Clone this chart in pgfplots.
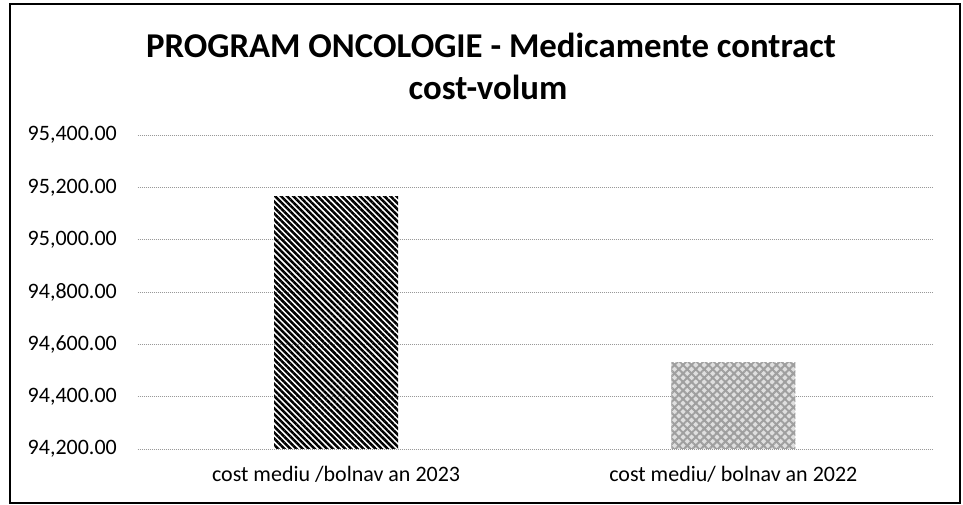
\documentclass[border=0pt]{standalone}
\usepackage{pgfplots}
\pgfplotsset{compat=1.18}
\usepackage{fontspec}
\setmainfont{Carlito}
\usetikzlibrary{patterns.meta}
\begin{document}
\begin{tikzpicture}[x=1pt,y=1pt]
\useasboundingbox (0,0) rectangle (963,505);
\draw[line width=2.5pt] (10,2) rectangle (960,501);
\node[anchor=base, font=\fontsize{34.8}{40}\selectfont\bfseries] at (491,447) {PROGRAM ONCOLOGIE - Medicamente contract};
\node[anchor=base, font=\fontsize{34.8}{40}\selectfont\bfseries] at (488,405) {cost-volum};
\begin{axis}[
  at={(137.5pt,56pt)}, anchor=south west,
  scale only axis, width=794.5pt, height=314pt,
  xmin=-0.5, xmax=1.5, ymin=94200, ymax=95400,
  ytick={94200,94400,94600,94800,95000,95200,95400},
  xtick={0,1},
  xticklabels={cost mediu /bolnav an 2023, cost mediu/ bolnav an 2022},
  axis line style={draw=none},
  major tick length=0pt,
  ymajorgrids,
  major grid style={gray!80, dash pattern=on 1pt off 1pt, line width=0.8pt},
  /pgf/number format/assume math mode=true,
  /pgf/number format/fixed,
  /pgf/number format/fixed zerofill,
  /pgf/number format/precision=2,
  /pgf/number format/1000 sep={,},
  scaled y ticks=false,
  every tick label/.append style={font=\fontsize{22}{26}\selectfont},
  yticklabel style={anchor=east, inner sep=0pt, xshift=-20.5pt},
  xticklabel style={anchor=north, inner sep=0pt, yshift=-17.5pt},
  ybar, bar width=124pt, bar shift=0pt,
]
\addplot[draw=none, pattern={Lines[angle=-45, distance=4.3pt, line width=2.5pt]}, pattern color=black]
  coordinates {(0,95165)};
\addplot[draw=none, fill=gray!25, postaction={pattern={Hatch[angle=45, distance=6pt, line width=2pt]}, pattern color=gray!75}]
  coordinates {(1,94530)};
\end{axis}
\end{tikzpicture}
\end{document}
